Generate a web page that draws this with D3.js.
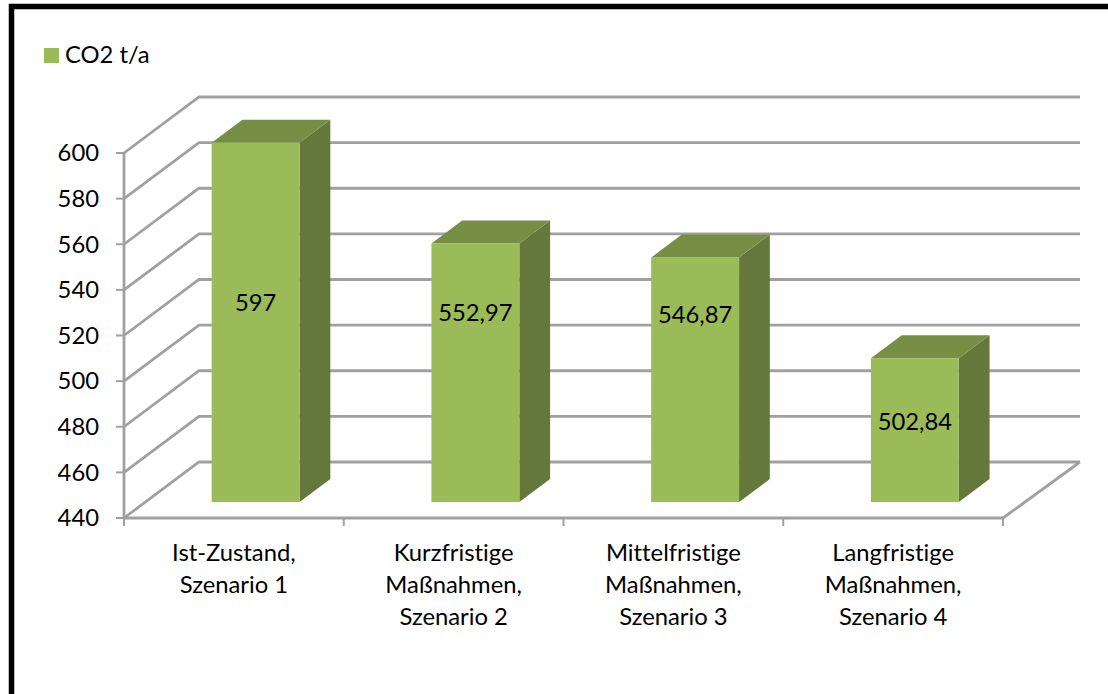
<!DOCTYPE html>
<html>
<head>
<meta charset="utf-8">
<script src="https://cdn.jsdelivr.net/npm/d3@7"></script>
<style>
html, body { margin: 0; padding: 0; background: #fff; overflow: hidden; }
text { font-family: Lato, "Open Sans", sans-serif; fill: #000; font-variant-ligatures: none; }
</style>
</head>
<body>
<div id="container"></div>
<script>
var categories = [
	["Ist-Zustand,", "Szenario 1"],
	["Kurzfristige", "Maßnahmen,", "Szenario 2"],
	["Mittelfristige", "Maßnahmen,", "Szenario 3"],
	["Langfristige", "Maßnahmen,", "Szenario 4"]
];
var values = [597, 552.97, 546.87, 502.84];
var valueLabels = ["597", "552,97", "546,87", "502,84"];
var yTicks = [440, 460, 480, 500, 520, 540, 560, 580, 600];
var seriesName = "CO2 t/a";

var width = 1108, height = 694;
var fontSize = 23.8;

// depth of the 3d box, z runs from 0 (front) to 1 (back wall)
var depthX = 75, depthY = 56;
var backRight = 1080;
var barZ0 = 0.29, barZ1 = 0.7;

// labels were moved by hand in the original, offset from the middle of the bar
var labelShift = [-20, -60, -65, -8];

var x = d3.scaleBand()
	.domain(d3.range(categories.length))
	.range([124, 1003])
	.paddingInner(0.6)
	.paddingOuter(0.3);

var y = d3.scaleLinear().domain([440, 600]).range([518, 153]);
var yBar = d3.scaleLinear().domain([440, 600]).range([518.3, 152]);

function px(xv, z) { return xv + depthX * z; }
function py(yv, z) { return yv - depthY * z; }

var svg = d3.select("#container").append("svg")
	.attr("width", width)
	.attr("height", height)
	.style("display", "block");

var defs = svg.append("defs");
defs.append("filter").attr("id", "soft")
	.attr("x", "-5%").attr("y", "-5%").attr("width", "110%").attr("height", "110%")
	.append("feGaussianBlur").attr("stdDeviation", 0.45);

// black frame, only left and top are on the picture
svg.append("path")
	.attr("d", "M11.5," + height + "V6.5H" + width)
	.attr("fill", "none")
	.attr("stroke", "#000")
	.attr("stroke-width", 5.5);

var chart = svg.append("g").attr("filter", "url(#soft)");
var lineColor = "#a0a0a0", lineWidth = 2.8;

// walls
chart.append("g").selectAll("path")
	.data(yTicks)
	.enter().append("path")
	.attr("fill", "none")
	.attr("stroke", lineColor)
	.attr("stroke-width", lineWidth)
	.attr("d", function(d) {
		return "M" + x.range()[0] + "," + y(d)
			+ "L" + px(x.range()[0], 1) + "," + py(y(d), 1)
			+ "H" + backRight;
	});

// floor and axes
chart.append("path")
	.attr("fill", "none")
	.attr("stroke", lineColor)
	.attr("stroke-width", lineWidth)
	.attr("d", "M" + x.range()[0] + "," + y(600) + "V" + y(440) + "H" + x.range()[1]
		+ "L" + backRight + "," + py(y(440), 1));

chart.append("g").selectAll("line")
	.data(yTicks)
	.enter().append("line")
	.attr("x1", x.range()[0] - 8)
	.attr("x2", x.range()[0])
	.attr("y1", function(d) { return y(d); })
	.attr("y2", function(d) { return y(d); })
	.attr("stroke", lineColor)
	.attr("stroke-width", 2);

chart.append("g").selectAll("line")
	.data(d3.range(categories.length + 1))
	.enter().append("line")
	.attr("x1", function(i) { return x.range()[0] + x.step() * i; })
	.attr("x2", function(i) { return x.range()[0] + x.step() * i; })
	.attr("y1", y(440))
	.attr("y2", y(440) + 8)
	.attr("stroke", lineColor)
	.attr("stroke-width", 2);

// bars
var bar = chart.append("g").selectAll("g")
	.data(values)
	.enter().append("g");

function face(pts) {
	return "M" + pts.map(function(p) { return p[0] + "," + p[1]; }).join("L") + "Z";
}

bar.append("path")
	.attr("fill", "#65783a")
	.attr("d", function(d, i) {
		var r = x(i) + x.bandwidth();
		return face([
			[px(r, barZ0), py(yBar(440), barZ0)],
			[px(r, barZ1), py(yBar(440), barZ1)],
			[px(r, barZ1), py(yBar(d), barZ1)],
			[px(r, barZ0), py(yBar(d), barZ0)]
		]);
	});

bar.append("path")
	.attr("fill", "#778f45")
	.attr("d", function(d, i) {
		var l = x(i), r = x(i) + x.bandwidth();
		return face([
			[px(l, barZ0), py(yBar(d), barZ0)],
			[px(l, barZ1), py(yBar(d), barZ1)],
			[px(r, barZ1), py(yBar(d), barZ1)],
			[px(r, barZ0), py(yBar(d), barZ0)]
		]);
	});

bar.append("rect")
	.attr("x", function(d, i) { return px(x(i), barZ0); })
	.attr("y", function(d) { return py(yBar(d), barZ0); })
	.attr("width", x.bandwidth())
	.attr("height", function(d) { return yBar(440) - yBar(d); })
	.attr("fill", "#9bbb59");

// value labels
svg.append("g").selectAll("text")
	.data(values)
	.enter().append("text")
	.attr("x", function(d, i) { return px(x(i), barZ0) + x.bandwidth() / 2; })
	.attr("y", function(d, i) {
		var top = py(yBar(d), barZ0), bottom = py(yBar(440), barZ0);
		return (top + bottom) / 2 + labelShift[i];
	})
	.attr("dy", "0.35em")
	.attr("text-anchor", "middle")
	.style("font-size", fontSize + "px")
	.text(function(d, i) { return valueLabels[i]; });

// y labels
svg.append("g").selectAll("text")
	.data(yTicks)
	.enter().append("text")
	.attr("x", 99)
	.attr("y", function(d) { return y(d); })
	.attr("dy", "0.35em")
	.attr("text-anchor", "end")
	.style("font-size", fontSize + "px")
	.text(function(d) { return d; });

// category labels
var catLabel = svg.append("g").selectAll("text")
	.data(categories)
	.enter().append("text")
	.attr("text-anchor", "middle")
	.style("font-size", fontSize + "px");

catLabel.selectAll("tspan")
	.data(function(d, i) { return d.map(function(s) { return { s: s, i: i }; }); })
	.enter().append("tspan")
	.attr("x", function(d) { return x.range()[0] + x.step() * (d.i + 0.5); })
	.attr("y", function(d, j) { return 561 + j * 32; })
	.text(function(d) { return d.s; });

// legend
svg.append("rect")
	.attr("x", 44).attr("y", 48)
	.attr("width", 15).attr("height", 15)
	.attr("fill", "#9bbb59");
svg.append("text")
	.attr("x", 65).attr("y", 55)
	.attr("dy", "0.35em")
	.style("font-size", fontSize + "px")
	.text(seriesName);
</script>
</body>
</html>
